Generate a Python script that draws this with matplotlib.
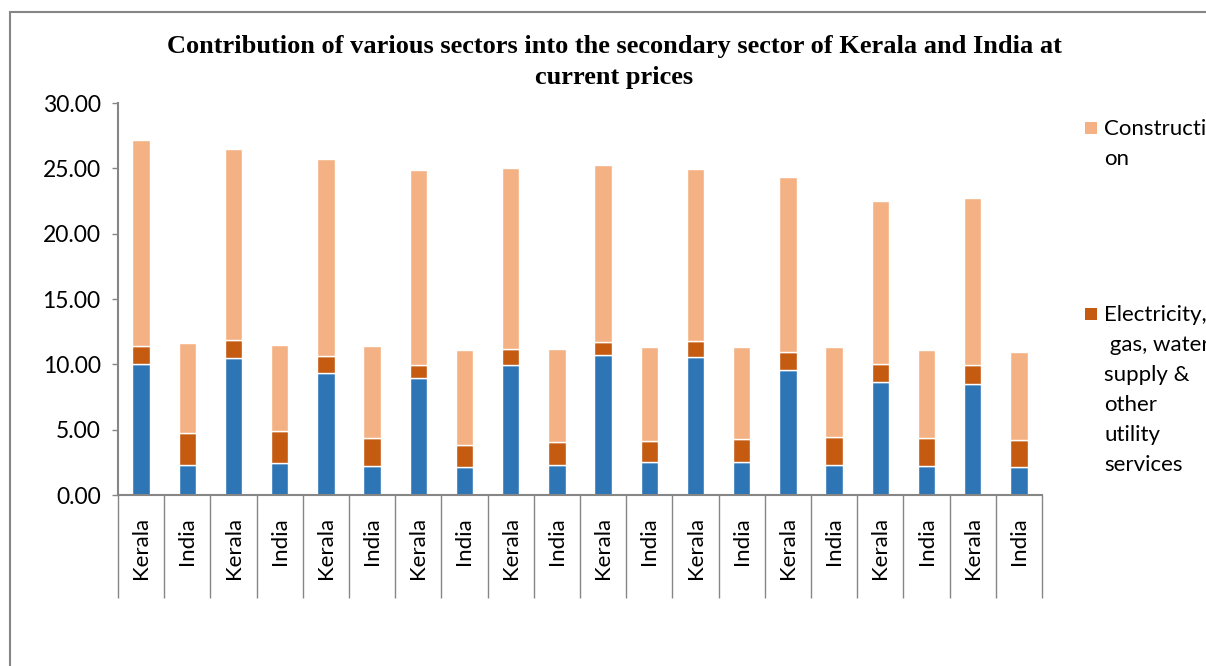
#!/usr/bin/env python3

from matplotlib.patches import Rectangle
from matplotlib.pyplot import close, figure, savefig

REGIONS = ["Kerala", "India"] * 10
MANUFACTURING = [
    10.00, 2.30, 10.46, 2.45, 9.31, 2.25, 8.95, 2.15, 9.97, 2.28,
    10.71, 2.50, 10.59, 2.50, 9.57, 2.28, 8.62, 2.20, 8.47, 2.12,
]
ELECTRICITY = [
    1.40, 2.47, 1.43, 2.47, 1.33, 2.14, 1.02, 1.70, 1.23, 1.78,
    1.02, 1.60, 1.22, 1.81, 1.35, 2.13, 1.40, 2.16, 1.45, 2.07,
]
CONSTRUCTION = [
    15.77, 6.90, 14.60, 6.55, 15.05, 7.05, 14.90, 7.25, 13.85, 7.15,
    13.50, 7.20, 13.12, 7.00, 13.40, 6.92, 12.48, 6.70, 12.80, 6.75,
]
Y_TICKS = [0, 5, 10, 15, 20, 25, 30]
TITLE = ("Contribution of various sectors into the secondary sector "
         "of Kerala and India at\ncurrent prices")
LEGEND = [
    ("Constructi\non", "#F4B183"),
    ("Electricity,\n gas, water\nsupply &\nother\nutility\nservices",
     "#C55A11"),
]
COLORS = {
    "manufacturing": "#2E75B6",
    "electricity": "#C55A11",
    "construction": "#F4B183",
    "axis": "#868686",
}
FONT = "Lato"
W, H = 1206, 666


def main():
    fig = figure(figsize=(W / 100, H / 100), dpi=100)
    ax = fig.add_axes([118 / W, 1 - 495 / H, (1042 - 118) / W, (495 - 103) / H])
    x = list(range(len(REGIONS)))
    kwargs = {
        "width": 0.38,
        "edgecolor": "white",
        "linewidth": 1.0,
    }
    ax.bar(x, MANUFACTURING, color=COLORS["manufacturing"], **kwargs)
    ax.bar(x, ELECTRICITY, bottom=MANUFACTURING,
           color=COLORS["electricity"], **kwargs)
    base = [m + e for (m, e) in zip(MANUFACTURING, ELECTRICITY)]
    ax.bar(x, CONSTRUCTION, bottom=base,
           color=COLORS["construction"], **kwargs)

    ax.set_xlim(-0.5, len(REGIONS) - 0.5)
    ax.set_ylim(0, 30)
    ax.set_yticks(Y_TICKS)
    ax.set_yticklabels(["{:.2f}".format(t) for t in Y_TICKS],
                       fontfamily=FONT, fontsize=16.5)
    ax.set_xticks(x)
    ax.set_xticklabels(REGIONS, rotation=90, fontfamily=FONT, fontsize=16)
    ax.set_xticks([i - 0.5 for i in range(len(REGIONS) + 1)], minor=True)
    ax.tick_params(axis="x", which="major", length=0, pad=16)
    ax.tick_params(axis="x", which="minor", length=74, width=1,
                   color=COLORS["axis"], direction="out")
    ax.tick_params(axis="y", length=4.5, width=1, color=COLORS["axis"],
                   pad=8)
    for side in ("top", "right"):
        ax.spines[side].set_visible(False)
    for side in ("left", "bottom"):
        ax.spines[side].set_color(COLORS["axis"])
        ax.spines[side].set_linewidth(1.5)

    fig.text(614 / W, 1 - 62 / H, TITLE, ha="center", va="center",
             fontfamily="Liberation Serif", fontweight="bold", fontsize=19,
             linespacing=1.4)

    tops = [128, 314]
    for ((label, color), top) in zip(LEGEND, tops):
        fig.patches.append(Rectangle(
            (1085 / W, 1 - (top + 6) / H), 12 / W, 12 / H,
            transform=fig.transFigure, facecolor=color, edgecolor="none",
        ))
        fig.text(1104 / W, 1 - (top - 9) / H, label, ha="left", va="top",
                 fontfamily=FONT, fontsize=16, linespacing=1.63)

    fig.patches.append(Rectangle(
        (10 / W, -0.1), 1.2, 1.1 - 12 / H, transform=fig.transFigure,
        fill=False, edgecolor=COLORS["axis"], linewidth=1.5,
    ))
    savefig("out.png", dpi=100)
    close()


if __name__ == "__main__":
    main()
